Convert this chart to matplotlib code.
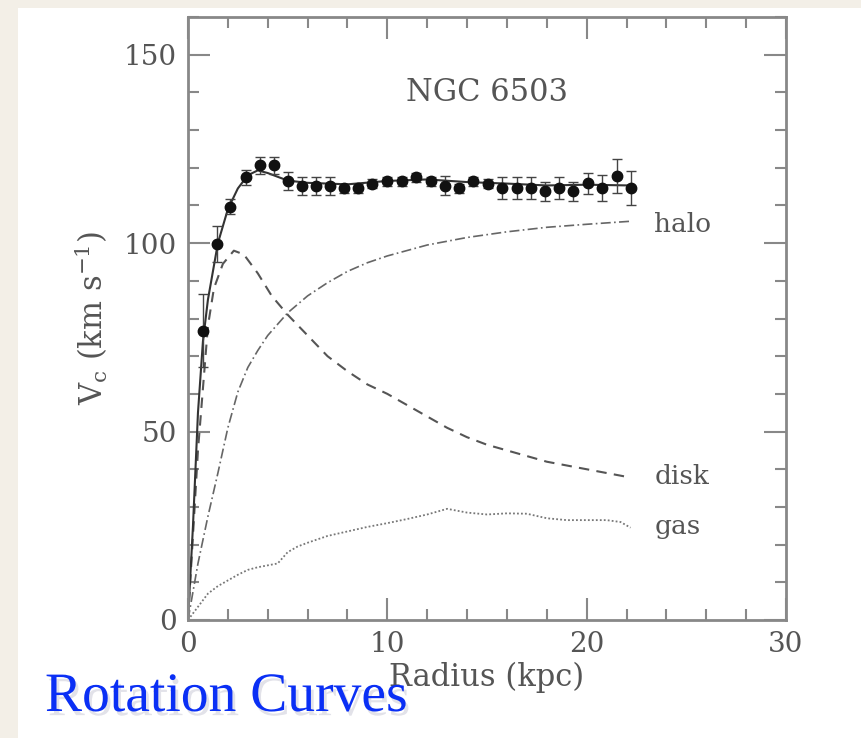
import numpy as np
import matplotlib
matplotlib.use('Agg')
import matplotlib.pyplot as plt
import matplotlib.patheffects as pe
from matplotlib.patches import Rectangle
from matplotlib.ticker import MultipleLocator

# observed rotation curve of NGC 6503 (kpc, km/s)
r_obs = [0.74, 1.44, 2.11, 2.90, 3.61, 4.32, 5.00, 5.74, 6.42, 7.12, 7.85, 8.55,
         9.25, 10.00, 10.72, 11.42, 12.19, 12.90, 13.61, 14.32, 15.04, 15.77,
         16.49, 17.20, 17.91, 18.63, 19.33, 20.05, 20.79, 21.51, 22.23]
v_obs = [76.8, 99.8, 109.7, 117.5, 120.6, 120.6, 116.4, 115.2, 115.2, 115.2, 114.6, 114.6,
         115.7, 116.4, 116.4, 117.5, 116.4, 115.2, 114.6, 116.4, 115.7, 114.6,
         114.6, 114.6, 113.7, 114.6, 113.7, 115.9, 114.6, 117.7, 114.6]
v_err = [9.7, 4.8, 2.0, 2.0, 2.2, 2.2, 2.4, 2.4, 2.4, 2.4, 1.2, 1.2,
         1.2, 1.2, 1.2, 1.2, 1.2, 2.5, 1.2, 1.2, 1.2, 3.0,
         3.0, 3.0, 2.5, 3.0, 2.5, 2.8, 3.5, 4.5, 4.5]

# model components
r_fit = [0, 0.25, 0.5, 0.75, 1.0, 1.5, 2.0, 2.5, 3.0, 3.5, 4.0, 5.0, 6.0, 8.0,
         10.0, 12.0, 14.0, 16.0, 18.0, 20.0, 22.2]
v_fit = [0, 25, 55, 74, 85, 100, 109, 114.5, 118, 119.3, 118.6, 116.6, 116.0, 115.6,
         116.5, 116.9, 116.2, 115.8, 115.3, 115.5, 115.3]

r_disk = [0, 0.5, 1.0, 1.3, 1.75, 2.3, 2.8, 3.5, 4.2, 5.0, 6.0, 7.0, 8.0, 9.0,
          10.0, 11.0, 12.0, 13.0, 14.0, 15.0, 16.0, 17.0, 18.0, 19.0, 20.0, 21.0, 22.0]
v_disk = [0, 45, 78, 88, 94.5, 98, 97, 92, 86, 81, 75.5, 70, 66, 62.5,
          60, 57, 54, 51, 48.5, 46.5, 45, 43.5, 42, 41, 40, 39, 38]

r_halo = [0, 0.5, 1.0, 1.5, 2.0, 2.5, 3.0, 3.5, 4.0, 5.0, 6.0, 7.0, 8.0, 9.0, 10.0,
          12.0, 14.0, 16.0, 18.0, 20.0, 22.2]
v_halo = [0, 15, 27.5, 39, 51, 60.5, 67, 71.5, 75.5, 81.5, 86, 89.5, 92.5, 94.8, 96.6,
          99.5, 101.5, 103, 104.2, 105, 105.8]

r_gas = [0, 0.5, 1.0, 1.5, 2.0, 2.5, 3.0, 3.5, 4.0, 4.5, 5.0, 5.5, 6.0, 7.0, 8.0,
         9.0, 10.0, 11.0, 12.0, 13.0, 14.0, 15.0, 16.0, 17.0, 18.0, 19.0, 20.0,
         21.0, 21.7, 22.2]
v_gas = [0, 3.5, 7, 9, 10.5, 12, 13.3, 14, 14.5, 15, 18, 19.5, 20.5, 22.3, 23.5,
         24.7, 25.7, 26.8, 28, 29.5, 28.5, 28, 28.3, 28.2, 27, 26.5, 26.5,
         26.5, 26, 24.5]

ink = '#555555'
plt.rcParams['mathtext.fontset'] = 'dejavuserif'
fig = plt.figure(figsize=(8.61, 7.38), dpi=100)
fig.patch.set_facecolor('#f3efe7')
fig.patches.append(Rectangle((18/861, 0), 1, 1-8/738, transform=fig.transFigure,
                             facecolor='white', edgecolor='none', zorder=-10))

ax = fig.add_axes([188/861, 1-620/738, 598/861, 603/738])
ax.set_facecolor('white')

ax.plot(r_halo, v_halo, color='#666666', lw=1.2, ls=(0, (6, 2, 1, 2)))
ax.plot(r_disk, v_disk, color='#555555', lw=1.5, ls=(0, (5, 3.5)))
ax.plot(r_gas, v_gas, color='#777777', lw=1.3, ls=(0, (1, 1.2)))
ax.plot(r_fit, v_fit, color='#333333', lw=1.5)
ax.errorbar(r_obs, v_obs, yerr=v_err, fmt='o', ms=7.5, color='#111111',
            ecolor='#444444', elinewidth=1, capsize=3.5, capthick=1)

ax.set_xlim(0, 30)
ax.set_ylim(0, 160)
ax.xaxis.set_major_locator(MultipleLocator(10))
ax.xaxis.set_minor_locator(MultipleLocator(2))
ax.yaxis.set_major_locator(MultipleLocator(50))
ax.yaxis.set_minor_locator(MultipleLocator(10))
ax.tick_params(which='both', direction='in', top=True, right=True, color='#888888',
               width=1.5, labelsize=20, labelcolor=ink, pad=8)
ax.tick_params(which='major', length=16)
ax.tick_params(which='minor', length=8)
for s in ax.spines.values():
    s.set_color('#888888')
    s.set_linewidth(2)
for lab in ax.get_xticklabels() + ax.get_yticklabels():
    lab.set_family('DejaVu Serif')

ax.set_xlabel('Radius (kpc)', family='DejaVu Serif', fontsize=22, color=ink, labelpad=3)
ax.set_ylabel(r'V$_{\rm c}$ (km s$^{-1}$)', family='DejaVu Serif', fontsize=22,
              color=ink, labelpad=10)

ax.text(15, 140, 'NGC 6503', family='DejaVu Serif', fontsize=22, color=ink,
        ha='center', va='center')
for name, yv in [('halo', 105), ('disk', 38.2), ('gas', 24.7)]:
    ax.text(23.4, yv, name, family='DejaVu Serif', fontsize=19, color=ink,
            ha='left', va='center')

fig.text(45/861, 1-711/738, 'Rotation Curves', family='Liberation Serif', fontsize=40,
         color='#0a2ff5', va='baseline', ha='left',
         path_effects=[pe.withSimplePatchShadow(offset=(2, -3), shadow_rgbFace='#a0a0b8',
                                                alpha=0.3)])

fig.savefig('out.png', dpi=100)
